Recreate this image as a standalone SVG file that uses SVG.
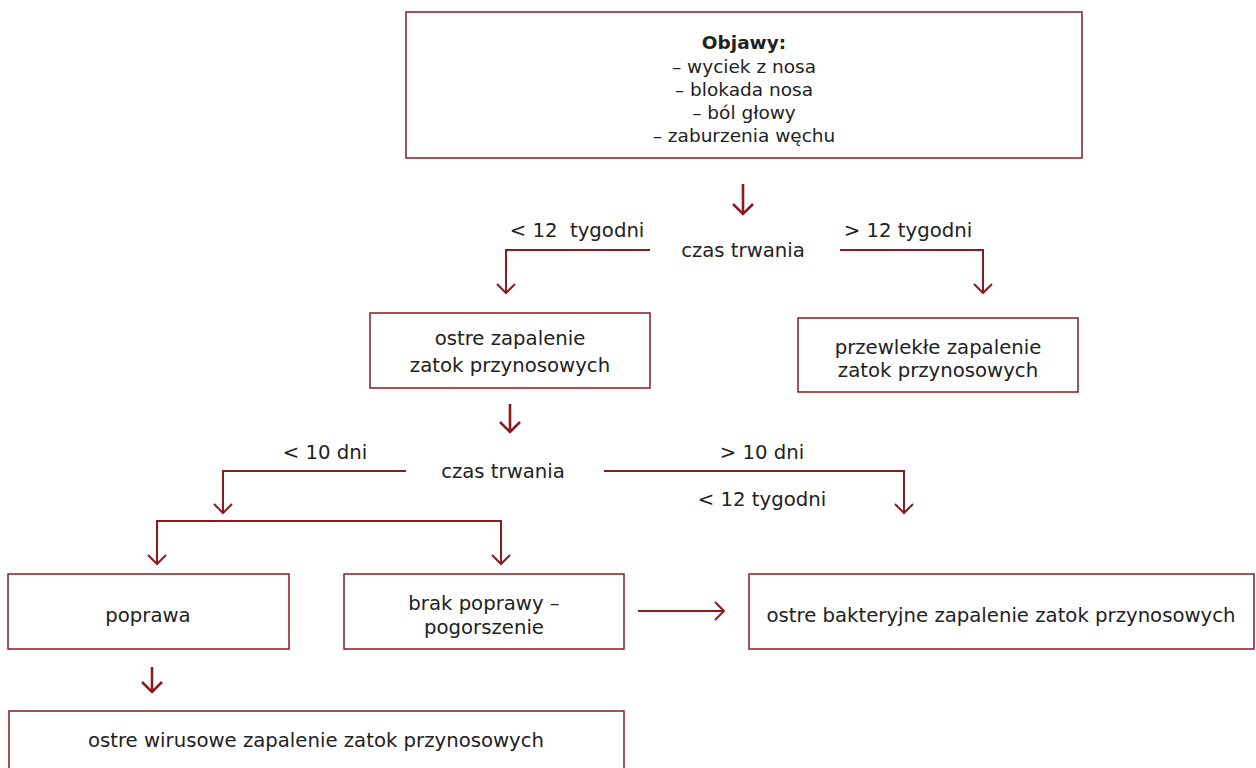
<svg xmlns="http://www.w3.org/2000/svg" width="1256" height="768" viewBox="0 0 1256 768">
<defs>
<style>
.box{fill:#fff;stroke:#8b1a22;stroke-width:1.5}
.t{font-family:"DejaVu Sans","Liberation Sans",sans-serif;font-size:19.7px;fill:#222;text-anchor:middle}
.s{font-size:18.5px}
.b{font-weight:bold}
.c{fill:none;stroke:#8b1a22;stroke-width:2}
.a{fill:none;stroke:#8b1a22;stroke-width:2.6}
</style>
<marker id="v" markerUnits="userSpaceOnUse" markerWidth="24" markerHeight="24" viewBox="-12 -12 24 24" refX="0" refY="0" orient="auto">
<path d="M-9,-9 L0,0 L-9,9" fill="none" stroke="#8b1a22" stroke-width="2"/>
</marker>
<marker id="v2" markerUnits="userSpaceOnUse" markerWidth="24" markerHeight="24" viewBox="-12 -12 24 24" refX="0" refY="0" orient="auto">
<path d="M-10,-10 L0,0 L-10,10" fill="none" stroke="#8b1a22" stroke-width="2.6"/>
</marker>
</defs>
<g id="connectors">
<line class="a" x1="743" y1="184" x2="743" y2="214" marker-end="url(#v2)"/>
<polyline class="c" points="650,250 506,250 506,293" marker-end="url(#v)"/>
<polyline class="c" points="840,250 983,250 983,293" marker-end="url(#v)"/>
<line class="a" x1="510" y1="404" x2="510" y2="432" marker-end="url(#v2)"/>
<polyline class="c" points="406,471 223,471 223,513" marker-end="url(#v)"/>
<polyline class="c" points="604,471 904,471 904,513" marker-end="url(#v)"/>
<polyline class="c" points="157,564 157,521 501,521 501,564" marker-end="url(#v)"/>
<line class="c" x1="204" y1="521" x2="301" y2="521" stroke-width="3"/>
<line class="c" x1="157" y1="521" x2="157" y2="564" marker-end="url(#v)"/>
<line class="a" x1="152" y1="667" x2="152" y2="692" marker-end="url(#v2)"/>
<line class="c" x1="638" y1="611" x2="724" y2="611" marker-end="url(#v)"/>
</g>
<g id="labels">
<text class="t" x="577" y="237" xml:space="preserve">&lt; 12  tygodni</text>
<text class="t" x="743" y="257">czas trwania</text>
<text class="t" x="908" y="237">&gt; 12 tygodni</text>
<text class="t" x="325" y="459">&lt; 10 dni</text>
<text class="t" x="503" y="478">czas trwania</text>
<text class="t" x="762" y="459">&gt; 10 dni</text>
<text class="t" x="762" y="506">&lt; 12 tygodni</text>
</g>
<g id="objawy">
<rect class="box" x="406" y="12" width="676" height="146"/>
<text class="t s b" x="744" y="49">Objawy:</text>
<text class="t s" x="744" y="73">– wyciek z nosa</text>
<text class="t s" x="744" y="96">– blokada nosa</text>
<text class="t s" x="744" y="119">– ból głowy</text>
<text class="t s" x="744" y="142">– zaburzenia węchu</text>
</g>
<g id="ostre">
<rect class="box" x="370" y="313" width="280" height="75"/>
<text class="t" x="510" y="345">ostre zapalenie</text>
<text class="t" x="510" y="372">zatok przynosowych</text>
</g>
<g id="przewlekle">
<rect class="box" x="798" y="318" width="280" height="74"/>
<text class="t" x="938" y="354">przewlekłe zapalenie</text>
<text class="t" x="938" y="377">zatok przynosowych</text>
</g>
<g id="poprawa">
<rect class="box" x="8" y="574" width="281" height="75"/>
<text class="t" x="148" y="622">poprawa</text>
</g>
<g id="brak">
<rect class="box" x="344" y="574" width="280" height="75"/>
<text class="t" x="484" y="610">brak poprawy –</text>
<text class="t" x="484" y="634">pogorszenie</text>
</g>
<g id="bakteryjne">
<rect class="box" x="749" y="574" width="505" height="75"/>
<text class="t" x="1001" y="622">ostre bakteryjne zapalenie zatok przynosowych</text>
</g>
<g id="wirusowe">
<rect class="box" x="9" y="711" width="615" height="70"/>
<text class="t" x="316" y="747">ostre wirusowe zapalenie zatok przynosowych</text>
</g>
</svg>
